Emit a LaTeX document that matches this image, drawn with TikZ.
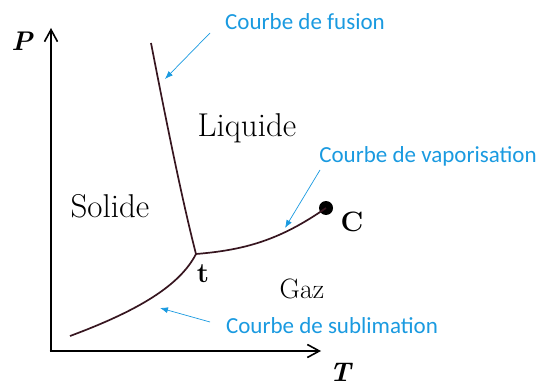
\documentclass[tikz,border=0pt]{standalone}
\usepackage{fontspec}
\newfontfamily\calibri{Carlito}
\usetikzlibrary{arrows.meta}
\definecolor{labelblue}{RGB}{26,154,224}
\definecolor{curvecol}{RGB}{55,22,32}
\begin{document}
\begin{tikzpicture}[x=1pt,y=-1pt,
  axis/.style={line width=2.6pt,black,-{Straight Barb[length=12pt,width=13pt,line width=1.6pt]}},
  phase/.style={line width=1.7pt,curvecol},
  bluearrow/.style={labelblue,line width=0.7pt,-{Latex[length=8pt,width=6pt]}},
  bluelabel/.style={text=labelblue,font=\calibri\fontsize{23}{26}\selectfont,inner sep=0pt},
  region/.style={font=\fontsize{33}{36}\selectfont,inner sep=0pt},
  axlabel/.style={font=\fontsize{27}{30}\selectfont\bfseries\itshape,inner sep=0pt},
  ptlabel/.style={font=\fontsize{28}{30}\selectfont\bfseries,inner sep=0pt}]
\useasboundingbox (0,0) rectangle (545,387);
% axes
\coordinate (O) at (51,351);
\coordinate (Ytop) at (51,28);
\coordinate (Xend) at (321,351);
\draw[axis] ([yshift=1.3pt]O) -- (Ytop);
\draw[axis] ([xshift=-1.3pt]O) -- (Xend);
\node[axlabel] (P) at (22,41) {P};
\node[axlabel] (T) at (340,372) {T};
% points
\coordinate (tp) at (196,254);
\node[circle,fill=black,inner sep=0pt,minimum size=14pt] (cp) at (326,208) {};
\coordinate (f0) at (151,43);
\coordinate (s0) at (70,336);
% phase curves
\draw[phase] (f0) .. controls (165,115) and (182,200) .. (tp);
\draw[phase] (s0) .. controls (140,310) and (180,285) .. (tp);
\draw[phase] (tp) .. controls (245,250) and (280,240) .. (cp.center);
% region labels
\node[region] (liq) at (247,128) {Liquide};
\node[region] (sol) at (110,206) {Solide};
\node[region,font=\fontsize{28}{30}\selectfont] (gaz) at (302,289) {Gaz};
\node[ptlabel] (tl) at (203,274) {t};
\node[ptlabel] (cl) at (352,222) {C};
% blue labels
\node[bluelabel] (lf) at (305,22) {Courbe de fusion};
\node[bluelabel] (lv) at (428,156) {Courbe de vaporisation};
\node[bluelabel] (ls) at (332,326) {Courbe de sublimation};
\coordinate (fa0) at (210,33);
\coordinate (fa1) at (165,79);
\coordinate (va0) at (320,170);
\coordinate (va1) at (285,228);
\coordinate (sa0) at (210,322);
\coordinate (sa1) at (160,308);
\draw[bluearrow] (fa0) -- (fa1);
\draw[bluearrow] (va0) -- (va1);
\draw[bluearrow] (sa0) -- (sa1);
\end{tikzpicture}
\end{document}
